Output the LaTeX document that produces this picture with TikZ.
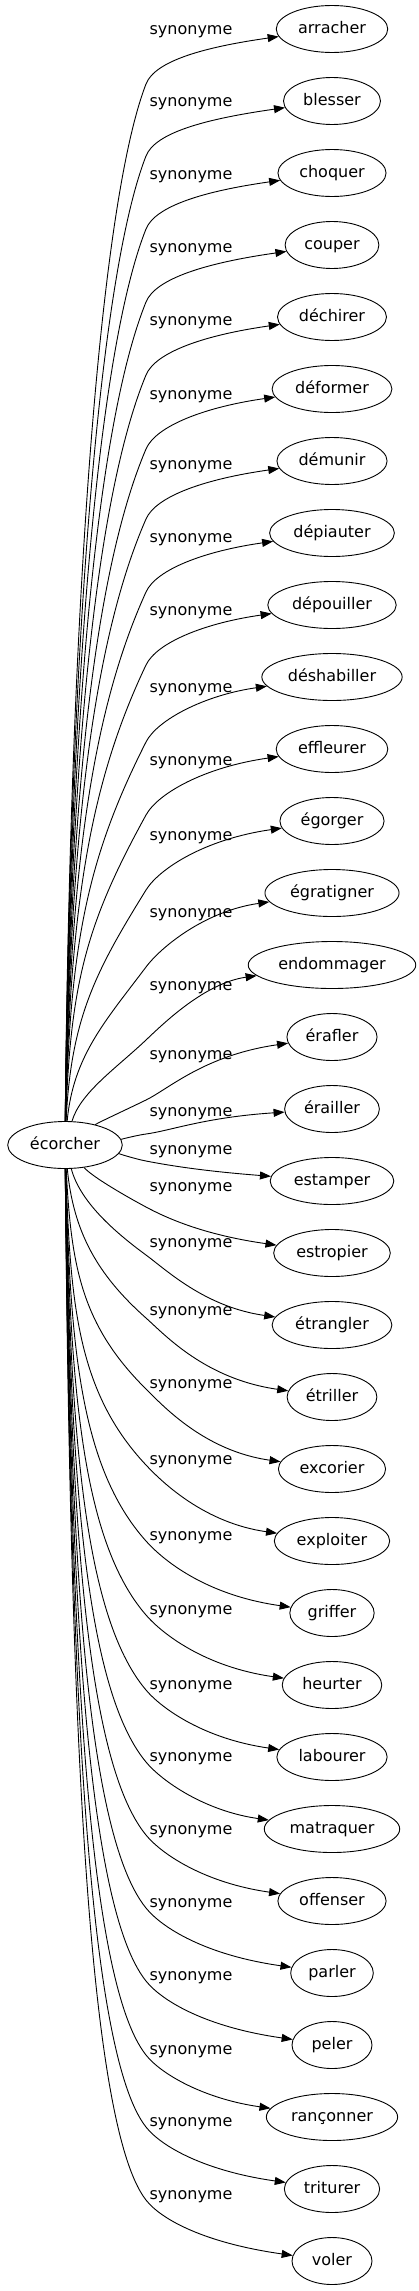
\documentclass[tikz,border=0pt]{standalone}
\usepackage{fontspec}
\setmainfont{DejaVu Sans}
\usetikzlibrary{arrows.meta,shapes.geometric}
\tikzset{word/.style={draw,ellipse,line width=0.9pt,inner xsep=5.5pt,inner ysep=2pt,minimum width=80pt,minimum height=47pt,text height=12pt,text depth=3.5pt,font=\fontsize{16}{19}\selectfont},
syn/.style={-{Triangle[length=11pt,width=8pt]},line width=0.9pt},
lbl/.style={inner sep=0pt,font=\fontsize{16}{19}\selectfont}}
\begin{document}
\begin{tikzpicture}[x=1pt,y=-1pt]
\useasboundingbox(0,0)rectangle(419,2291);
\node[word](ecorcher)at(65,1145){écorcher};
\node[word](arracher)at(332,29){arracher};
\node[word](blesser)at(332,101){blesser};
\node[word](choquer)at(332,173){choquer};
\node[word](couper)at(332,245){couper};
\node[word](dechirer)at(332,317){déchirer};
\node[word](deformer)at(332,389){déformer};
\node[word](demunir)at(332,461){démunir};
\node[word](depiauter)at(332,533){dépiauter};
\node[word](depouiller)at(332,605){dépouiller};
\node[word](deshabiller)at(332,677){déshabiller};
\node[word](effleurer)at(332,749){effleurer};
\node[word](egorger)at(332,821){égorger};
\node[word](egratigner)at(332,893){égratigner};
\node[word](endommager)at(332,965){endommager};
\node[word](erafler)at(332,1037){érafler};
\node[word](erailler)at(332,1109){érailler};
\node[word](estamper)at(332,1181){estamper};
\node[word](estropier)at(332,1253){estropier};
\node[word](etrangler)at(332,1325){étrangler};
\node[word](etriller)at(332,1397){étriller};
\node[word](excorier)at(332,1469){excorier};
\node[word](exploiter)at(332,1541){exploiter};
\node[word](griffer)at(332,1613){griffer};
\node[word](heurter)at(332,1685){heurter};
\node[word](labourer)at(332,1757){labourer};
\node[word](matraquer)at(332,1829){matraquer};
\node[word](offenser)at(332,1901){offenser};
\node[word](parler)at(332,1973){parler};
\node[word](peler)at(332,2045){peler};
\node[word](ranconner)at(332,2117){rançonner};
\node[word](triturer)at(332,2189){triturer};
\node[word](voler)at(332,2261){voler};
% edges: name / label y / bend y
\foreach\n/\ly/\wy[count=\k from 0]in{arracher/32/84,blesser/104/156,choquer/177/229,couper/250/302,dechirer/323/375,deformer/397/449,demunir/467/519,depiauter/540/592,depouiller/613/665,deshabiller/690/742,effleurer/763/815,egorger/838/890,egratigner/915/967,endommager/988/1040,erafler/1057/1100,erailler/1114/1134,estamper/1152/1161,estropier/1189/1207,etrangler/1245/1255,etriller/1313/1318,excorier/1386/1389,exploiter/1462/1465,griffer/1538/1541,heurter/1612/1615,labourer/1687/1690,matraquer/1759/1762,offenser/1832/1835,parler/1905/1908,peler/1978/1981,ranconner/2052/2055,triturer/2124/2127,voler/2197/2200}{
\pgfmathsetmacro\ty{29+72*\k}
\pgfmathsetmacro\sg{\k<16 ? -1 : 1}
\pgfmathsetmacro\h{abs(\wy-1145)}
\pgfmathsetmacro\ax{70+60*exp(-min(\h,600)/60)}
\pgfmathsetmacro\ay{1145+\sg*\h/2}
\pgfmathsetmacro\s{\k<16 ? 3.2*\h/(\h+250) : 1.4*\h/(\h+100)}
\pgfmathsetmacro\cmax{\k<16 ? 130 : 100}
\pgfmathsetmacro\c{min(\cmax,0.35*\h+5)}
\pgfmathsetmacro\dx{1/sqrt(1+\s*\s)}
\pgfmathsetmacro\dy{\sg*\s*\dx}
\pgfmathsetmacro\bx{146-\c*\dx}
\pgfmathsetmacro\by{\wy-\c*\dy}
\pgfmathsetmacro\ex{146+25*\dx}
\pgfmathsetmacro\ey{\wy+25*\dy}
\pgfmathsetmacro\fy{\ty-\sg*min(18,0.3*\h+5)}
\draw[syn](ecorcher).. controls(\ax,\ay)and(\bx,\by)..(146,\wy).. controls(\ex,\ey)and(205,\fy)..(\n);
\node[lbl](l\k)at(191,\ly){synonyme};
}
\end{tikzpicture}
\end{document}
